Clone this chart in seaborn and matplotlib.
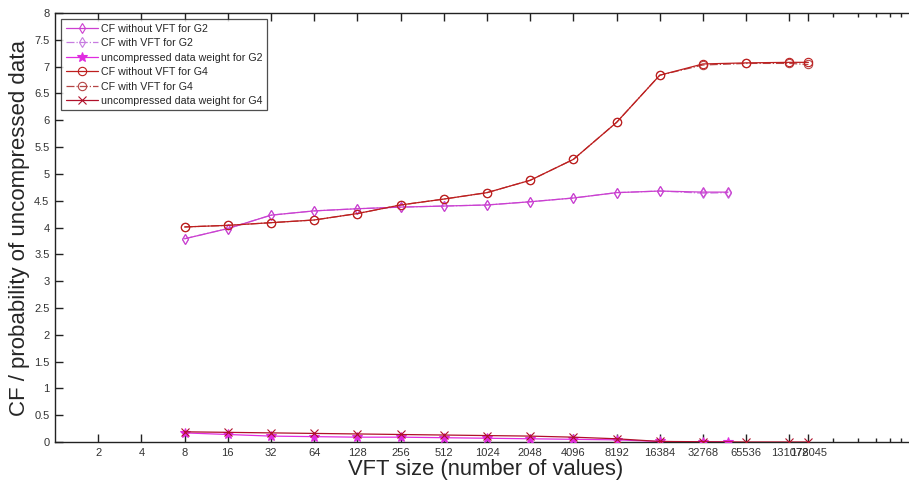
import matplotlib
matplotlib.use("Agg")
import matplotlib.pyplot as plt
import seaborn as sns
import numpy as np
import pandas as pd

# ---- data ----
vft_g2 = [8, 16, 32, 64, 128, 256, 512, 1024, 2048, 4096, 8192, 16384, 32768, 49000]
cf_wo_g2 = [3.79, 3.98, 4.23, 4.31, 4.35, 4.38, 4.40, 4.42, 4.48, 4.55, 4.65, 4.68, 4.66, 4.66]
cf_w_g2 = [3.79, 3.98, 4.23, 4.31, 4.35, 4.38, 4.40, 4.42, 4.48, 4.55, 4.65, 4.68, 4.64, 4.65]
wt_g2 = [0.17, 0.14, 0.11, 0.10, 0.09, 0.09, 0.08, 0.07, 0.06, 0.05, 0.04, 0.01, 0.0, 0.0]

vft_g4 = [8, 16, 32, 64, 128, 256, 512, 1024, 2048, 4096, 8192, 16384, 32768, 65536, 131072, 178045]
cf_wo_g4 = [4.01, 4.04, 4.09, 4.14, 4.26, 4.42, 4.53, 4.65, 4.88, 5.27, 5.96, 6.84, 7.05, 7.07, 7.08, 7.08]
cf_w_g4 = [4.01, 4.04, 4.09, 4.14, 4.26, 4.42, 4.53, 4.65, 4.88, 5.27, 5.96, 6.84, 7.03, 7.06, 7.06, 7.04]
wt_g4 = [0.19, 0.18, 0.17, 0.16, 0.15, 0.14, 0.13, 0.12, 0.11, 0.09, 0.06, 0.01, 0.005, 0.0, 0.0, 0.0]

xtick_vals = [2, 4, 8, 16, 32, 64, 128, 256, 512, 1024, 2048, 4096, 8192, 16384,
              32768, 65536, 131072, 178045]
xtick_labels = [str(v) for v in xtick_vals]
minor_vals = [2 * 131072, 3 * 131072, 4 * 131072, 5 * 131072, 6 * 131072, 7 * 131072]
ytick_vals = [i * 0.5 for i in range(17)]

labels = ["CF without VFT for G2", "CF with VFT for G2", "uncompressed data weight for G2",
          "CF without VFT for G4", "CF with VFT for G4", "uncompressed data weight for G4"]

# ---- style ----
sns.set_theme(style="white")
plt.rcParams["font.family"] = ["Liberation Sans", "DejaVu Sans"]

W, H = 909, 488
fig = plt.figure(figsize=(W / 100, H / 100), dpi=100)
ax = fig.add_axes([55 / W, (H - 442) / H, 861 / W, (442 - 13) / H])

c_g2 = "#CC3FD0"
c_g2w = "#C77BE0"
c_g2s = "#E02CE0"
c_g4 = "#BE1E1E"
c_g4w = "#B54545"
c_g4x = "#B0102A"

series = [
    (vft_g2, cf_wo_g2, c_g2, "d", "-", "none", labels[0], 3),
    (vft_g2, cf_w_g2, c_g2w, "d", "-.", "none", labels[1], 2),
    (vft_g2, wt_g2, c_g2s, "*", "-", c_g2s, labels[2], 3),
    (vft_g4, cf_wo_g4, c_g4, "o", "-", "none", labels[3], 3),
    (vft_g4, cf_w_g4, c_g4w, "o", "-.", "none", labels[4], 2),
    (vft_g4, wt_g4, c_g4x, "x", "-", c_g4x, labels[5], 3),
]

for xs, ys, col, mk, ls, mfc, lab, z in series:
    df = pd.DataFrame({"x": xs, "y": ys})
    ms = {"d": 5.5, "o": 6, "*": 7, "x": 6}[mk]
    sns.lineplot(data=df, x="x", y="y", ax=ax, color=col, marker=mk, linestyle=ls,
                 linewidth=0.9, markersize=ms,
                 markerfacecolor=mfc, markeredgecolor=col, markeredgewidth=0.8,
                 label=lab, sort=False, estimator=None, zorder=z)

ax.set_xscale("log", base=2)
ax.set_xlim(1, 1e6)
ax.set_ylim(0, 8)

ax.set_xticks(xtick_vals)
ax.set_xticklabels(xtick_labels)
ax.set_xticks(minor_vals, minor=True)
ax.set_xticklabels([""] * len(minor_vals), minor=True)
ax.set_yticks(ytick_vals)
ax.set_yticklabels(["%g" % v for v in ytick_vals])

ax.tick_params(axis="both", which="major", direction="in", length=6, width=1,
               labelsize=8, colors="#222222", labelcolor="#333333", pad=4)
ax.tick_params(axis="x", which="both", top=True, bottom=True)
ax.tick_params(axis="x", which="minor", direction="in", length=3, width=1, colors="#222222")
ax.tick_params(axis="y", which="major", left=True, right=False)

for s in ["left", "bottom", "top"]:
    ax.spines[s].set_color("#222222")
    ax.spines[s].set_linewidth(1)
ax.spines["right"].set_visible(False)

ax.set_xlabel("VFT size (number of values)", fontsize=15.8, labelpad=1)
ax.set_ylabel("CF / probability of uncompressed data", fontsize=16, labelpad=3)

leg = ax.legend(loc="upper left", bbox_to_anchor=(0.005, 0.99), frameon=True,
                fancybox=False, edgecolor="#222222", fontsize=7.7, handlelength=3.0,
                handletextpad=0.3, borderpad=0.4, labelspacing=0.42, borderaxespad=0.2)
leg.get_frame().set_linewidth(0.9)

fig.savefig("out.png", dpi=100)
